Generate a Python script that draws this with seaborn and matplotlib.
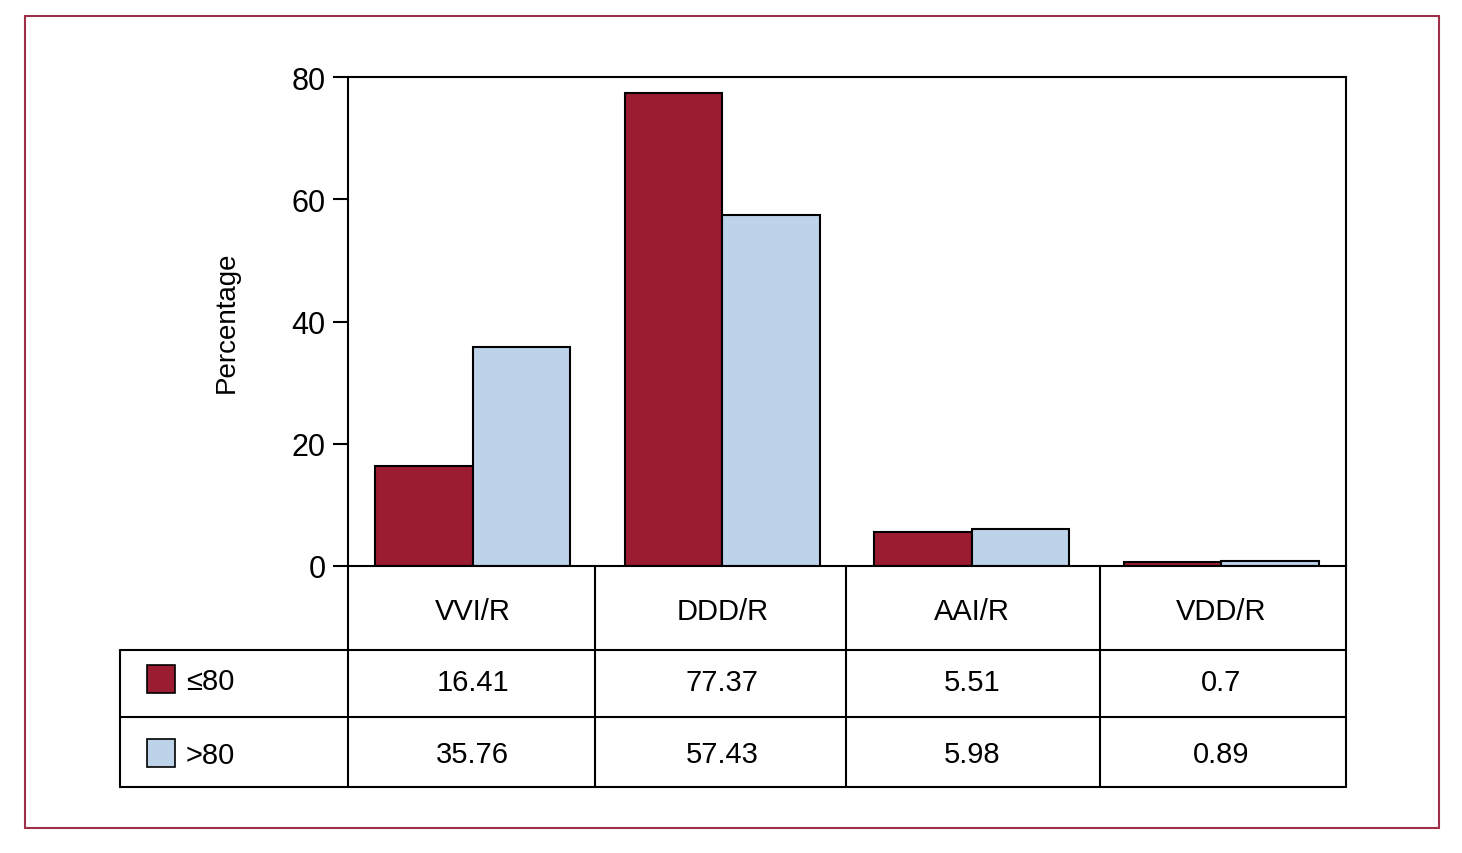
import matplotlib
matplotlib.use("Agg")
import matplotlib.pyplot as plt
import matplotlib.patches as mpatches
import matplotlib.transforms as mtrans
import pandas as pd
import seaborn as sns

modes = ["VVI/R", "DDD/R", "AAI/R", "VDD/R"]
groups = ["\u226480", ">80"]
young = [16.41, 77.37, 5.51, 0.7]
old = [35.76, 57.43, 5.98, 0.89]
young_txt = ["16.41", "77.37", "5.51", "0.7"]
old_txt = ["35.76", "57.43", "5.98", "0.89"]
yticks = [0, 20, 40, 60, 80]

RED = "#9b1c31"
BLUE = "#bdd3ea"
FRAME = "#a0304a"

W, H = 1462, 854
FS = 21

sns.set_theme(style="white")
plt.rcParams["font.family"] = ["Liberation Sans", "DejaVu Sans"]
plt.rcParams["text.color"] = "black"
plt.rcParams["axes.labelcolor"] = "black"
plt.rcParams["ytick.color"] = "black"

df = pd.DataFrame({
    "mode": modes * 2,
    "group": [groups[0]] * 4 + [groups[1]] * 4,
    "pct": young + old,
})


def fx(x):
    return x / W


def fy(y):
    return 1 - y / H


fig = plt.figure(figsize=(W / 100, H / 100), dpi=100)
ax = fig.add_axes([fx(348), fy(567), fx(1346) - fx(348), fy(78) - fy(567)])

sns.barplot(data=df, x="mode", y="pct", hue="group", palette=[RED, BLUE], saturation=1,
            edgecolor="black", linewidth=1.5, width=0.78, legend=False, ax=ax)

ax.set_ylim(0, 80)
ax.set_xlim(-0.5, 3.5)
ax.set_yticks(yticks)
ax.set_yticklabels([str(t) for t in yticks], fontsize=FS + 1)
ax.set_xticks([])
ax.set_xlabel("")
ax.set_ylabel("Percentage", fontsize=20)
ax.yaxis.set_label_coords(-0.108, 0.5)
ax.tick_params(axis="y", direction="out", length=11, width=1.5, color="black", pad=5, left=True)
for s in ax.spines.values():
    s.set_visible(True)
    s.set_color("black")
    s.set_linewidth(1.5)

# table below the axes
lkw = dict(color="black", linewidth=1.5, transform=fig.transFigure)
for y in [651, 718, 788]:
    fig.add_artist(plt.Line2D([fx(120), fx(1346)], [fy(y), fy(y)], **lkw))
fig.add_artist(plt.Line2D([fx(120), fx(120)], [fy(651), fy(788)], **lkw))
for x in [348, 595, 846, 1100, 1346]:
    fig.add_artist(plt.Line2D([fx(x), fx(x)], [fy(567), fy(788)], **lkw))

blend = mtrans.blended_transform_factory(ax.transData, fig.transFigure)
for i, m in enumerate(modes):
    ax.text(i, fy(612), m, transform=blend, ha="center", va="center", fontsize=FS, clip_on=False)
    ax.text(i, fy(683), young_txt[i], transform=blend, ha="center", va="center", fontsize=FS, clip_on=False)
    ax.text(i, fy(755), old_txt[i], transform=blend, ha="center", va="center", fontsize=FS, clip_on=False)

for col, lab, yc in [(RED, groups[0], 680), (BLUE, groups[1], 754)]:
    fig.add_artist(mpatches.Rectangle((fx(147), fy(yc + 14)), fx(28), fy(0) - fy(28),
                                      facecolor=col, edgecolor="black", linewidth=1.2,
                                      transform=fig.transFigure))
    fig.text(fx(186), fy(yc + 2), lab, ha="left", va="center", fontsize=FS)

# outer frame
fig.add_artist(mpatches.Rectangle((fx(25), fy(829)), fx(1439) - fx(25), fy(17) - fy(829),
                                  fill=False, edgecolor=FRAME, linewidth=1.5,
                                  transform=fig.transFigure))

fig.savefig("out.png", dpi=100)
